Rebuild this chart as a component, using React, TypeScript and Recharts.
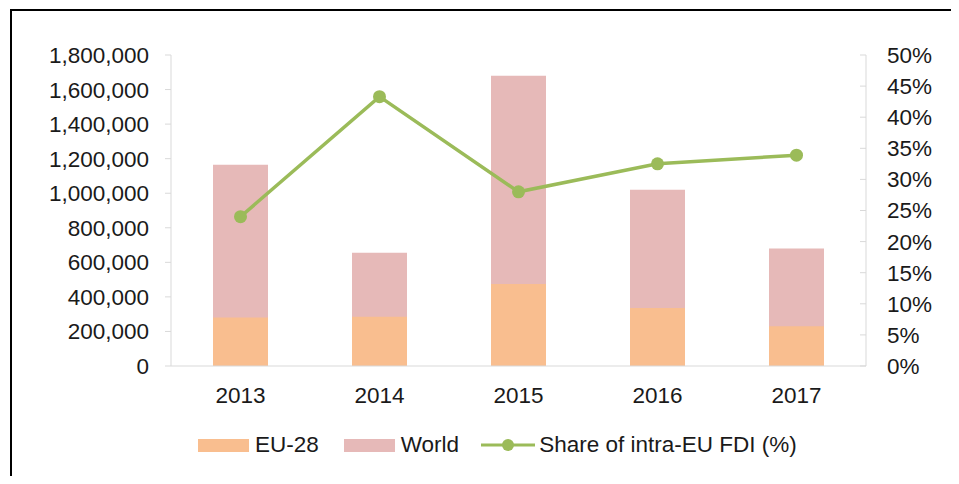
import React from 'react';
import { ComposedChart, Bar, Line, XAxis, YAxis, Legend } from 'recharts';

const years = ['2013', '2014', '2015', '2016', '2017'];
const euValues = [280000, 285000, 475000, 335000, 230000];
const worldValues = [1165000, 655000, 1680000, 1020000, 680000];
const shareValues = [24.0, 43.3, 28.0, 32.5, 33.9];

const leftTicks = [0, 200000, 400000, 600000, 800000, 1000000, 1200000, 1400000, 1600000, 1800000];
const rightTicks = [0, 5, 10, 15, 20, 25, 30, 35, 40, 45, 50];

const EU_COLOR = '#F9BE8F';
const WORLD_COLOR = '#E6B9B8';
const LINE_COLOR = '#9BBB59';
const AXIS_COLOR = '#D9D9D9';
const TEXT_COLOR = '#1a1a1a';
const FONT = '"Liberation Sans", Arial, sans-serif';

const data = years.map((y, i) => ({
  year: y,
  eu: euValues[i],
  world: worldValues[i],
  share: shareValues[i],
}));

// legend drawn by hand so the order matches the original (EU-28, World, line)
const LegendContent = () => (
  <div style={{ display: 'flex', alignItems: 'center', height: 30, paddingLeft: 198, fontFamily: FONT, fontSize: 22.5, color: TEXT_COLOR }}>
    <span style={{ display: 'inline-block', width: 51, height: 13, background: EU_COLOR, marginRight: 6 }} />
    <span style={{ marginRight: 25 }}>EU-28</span>
    <span style={{ display: 'inline-block', width: 51, height: 13, background: WORLD_COLOR, marginRight: 6 }} />
    <span style={{ marginRight: 22 }}>World</span>
    <svg width={54} height={14} style={{ marginRight: 4 }}>
      <line x1={0} y1={7} x2={54} y2={7} stroke={LINE_COLOR} strokeWidth={3} />
      <circle cx={27} cy={7} r={6} fill={LINE_COLOR} />
    </svg>
    <span>Share of intra-EU FDI (%)</span>
  </div>
);

const App: React.FC = () => {
  return (
    <div style={{ position: 'relative', width: 959, height: 484, margin: -8, background: '#fff', overflow: 'hidden' }}>
      <div style={{ position: 'absolute', left: 10, top: 9, right: -10, bottom: -10, borderTop: '2px solid #000', borderLeft: '2px solid #000' }} />
      <ComposedChart
        width={959}
        height={484}
        data={data}
        margin={{ top: 55, right: 0, bottom: 36, left: 0 }}
        style={{ position: 'absolute', left: 0, top: 0 }}
      >
        <XAxis
          dataKey="year"
          stroke={AXIS_COLOR}
          tickLine={false}
          tickMargin={15}
          height={52}
          tick={{ fill: TEXT_COLOR, fontSize: 22.5, fontFamily: FONT }}
        />
        <XAxis xAxisId="eu" dataKey="year" hide />
        <YAxis
          yAxisId="left"
          domain={[0, 1800000]}
          ticks={leftTicks}
          interval={0}
          width={171}
          stroke={AXIS_COLOR}
          tickSize={6}
          tickMargin={16}
          tickFormatter={(v: number) => v.toLocaleString('en-US')}
          tick={{ fill: TEXT_COLOR, fontSize: 22.5, fontFamily: FONT }}
        />
        <YAxis
          yAxisId="right"
          orientation="right"
          domain={[0, 50]}
          ticks={rightTicks}
          interval={0}
          width={93}
          stroke={AXIS_COLOR}
          tickSize={-6}
          tickMargin={27}
          tickFormatter={(v: number) => `${v}%`}
          tick={{ fill: TEXT_COLOR, fontSize: 22.5, fontFamily: FONT }}
        />
        <Bar dataKey="world" name="World" yAxisId="left" fill={WORLD_COLOR} barSize={55} isAnimationActive={false} />
        <Bar dataKey="eu" name="EU-28" yAxisId="left" xAxisId="eu" fill={EU_COLOR} barSize={55} isAnimationActive={false} />
        <Line
          dataKey="share"
          name="Share of intra-EU FDI (%)"
          yAxisId="right"
          stroke={LINE_COLOR}
          strokeWidth={3.5}
          dot={{ r: 6.5, fill: LINE_COLOR, stroke: LINE_COLOR, strokeWidth: 0 }}
          isAnimationActive={false}
        />
        <Legend verticalAlign="bottom" height={30} wrapperStyle={{ bottom: 24, left: 0, width: 959 }} content={<LegendContent />} />
      </ComposedChart>
    </div>
  );
};

export default App;
